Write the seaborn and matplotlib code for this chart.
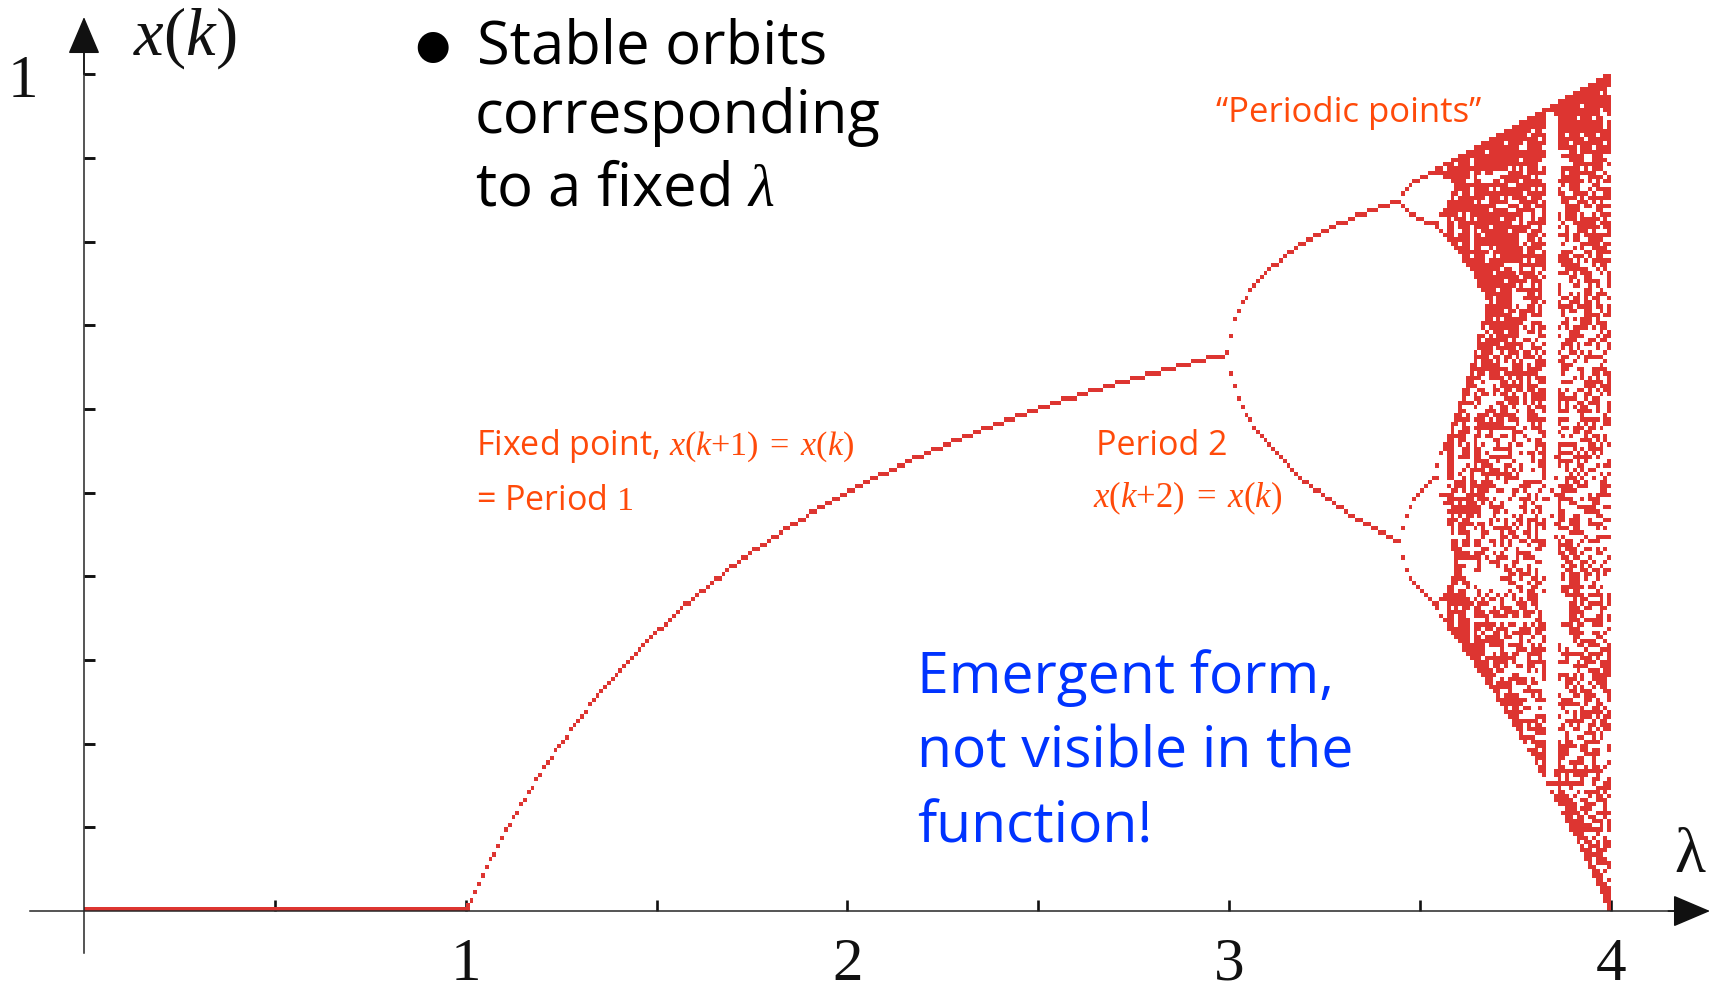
import numpy as np
import pandas as pd
import matplotlib
matplotlib.use("Agg")
import matplotlib.pyplot as plt
from matplotlib.colors import ListedColormap
import seaborn as sns

# ---- logistic map x(k+1) = lambda * x(k) * (1 - x(k)) ----
# lambda sampled at the centres of 0.01-wide columns between 0 and 4
LAMBDA_FIRST = 0.005
LAMBDA_LAST = 3.995
LAMBDA_STEP = 0.01
X_START = 0.2
N_TRANSIENT = 1000
N_ORBIT = 180
N_XBINS = 200

# axis decorations
X_TICKS = [0.5, 1.0, 1.5, 2.0, 2.5, 3.0, 3.5, 4.0]
X_TICK_LABELS = ["", "1", "", "2", "", "3", "", "4"]
Y_TICKS = [0.1, 0.2, 0.3, 0.4, 0.5, 0.6, 0.7, 0.8, 0.9, 1.0]
Y_TICK_LABELS = ["", "", "", "", "", "", "", "", "", "1"]

DOT_RED = "#DD3531"
NOTE_ORANGE = "#FF4A0A"
NOTE_BLUE = "#0033FF"
AXIS_COLOR = "#262626"

# iterate the map for every lambda and keep the settled orbit
lam = np.round(np.arange(LAMBDA_FIRST, LAMBDA_LAST + LAMBDA_STEP / 2, LAMBDA_STEP), 4)
x = np.full(lam.shape, X_START)
for _ in range(N_TRANSIENT):
    x = lam * x * (1.0 - x)
orbit = np.empty((N_ORBIT, lam.size))
for i in range(N_ORBIT):
    x = lam * x * (1.0 - x)
    orbit[i] = x
orbits = pd.DataFrame({"lam": np.tile(lam, N_ORBIT), "x": orbit.ravel()})

lam_edges = np.append(lam - LAMBDA_STEP / 2, lam[-1] + LAMBDA_STEP / 2)
x_edges = np.linspace(0.0, 1.0, N_XBINS + 1)

# ---- figure ----
sns.set_theme(style="white")
plt.rcParams["font.family"] = ["Open Sans", "DejaVu Sans"]
plt.rcParams["mathtext.fontset"] = "custom"
plt.rcParams["mathtext.rm"] = "Liberation Serif"
plt.rcParams["mathtext.it"] = "Liberation Serif:italic"
plt.rcParams["mathtext.bf"] = "Liberation Serif:bold"

W, H = 1720, 987
fig = plt.figure(figsize=(W / 100, H / 100), dpi=100)
fig.patch.set_facecolor("white")
ax = fig.add_axes([0, 0, 1, 1])
ax.set_facecolor("white")

sns.histplot(data=orbits, x="lam", y="x", bins=(lam_edges, x_edges),
             cmap=ListedColormap([DOT_RED]), cbar=False, ax=ax)

ax.set_xlim(-0.2200, 4.2855)
ax.set_ylim(-0.0896, 1.0900)
ax.set_xlabel("")
ax.set_ylabel("")

# axes through the origin with arrow heads
for side in ("top", "right"):
    ax.spines[side].set_visible(False)
for side in ("left", "bottom"):
    ax.spines[side].set_position(("data", 0))
    ax.spines[side].set_color(AXIS_COLOR)
    ax.spines[side].set_linewidth(1.1)
ax.spines["bottom"].set_bounds(-0.1415, 4.20)
ax.spines["left"].set_bounds(-0.0502, 1.03)

head = "-|>,head_length=2.0,head_width=0.85"
ax.annotate("", xy=(4.2594, 0), xytext=(4.15, 0),
            arrowprops=dict(arrowstyle=head, color="#111111", lw=1.1,
                            shrinkA=0, shrinkB=0))
ax.annotate("", xy=(0, 1.0685), xytext=(0, 1.00),
            arrowprops=dict(arrowstyle=head, color="#111111", lw=1.1,
                            shrinkA=0, shrinkB=0))

ax.set_xticks(X_TICKS, X_TICK_LABELS)
ax.set_yticks(Y_TICKS, Y_TICK_LABELS)
ax.tick_params(axis="x", direction="in", length=8, width=1.9, color="#111111",
               pad=18, labelsize=44, labelcolor="#111111")
ax.tick_params(axis="y", direction="in", length=8.2, width=2.1, color="#111111",
               pad=33, labelsize=44, labelcolor="#111111")
for lbl in ax.get_xticklabels() + ax.get_yticklabels():
    lbl.set_fontfamily("Liberation Serif")
ax.tick_params(left=True, bottom=True)


def at(px, py):
    return px / W, 1 - py / H


# axis titles
fig.text(*at(133, 55), r"$x(k)$", fontsize=48, ha="left", va="baseline",
         color="#111111")
fig.text(*at(1690, 872), "λ", fontsize=46, ha="center", va="baseline",
         family="Liberation Serif", color="#111111")

# bullet note
fig.text(*at(432, 72), "•", fontsize=60, ha="center", va="baseline", color="black",
         family="Lato")
fig.text(*at(477, 63), "Stable orbits", fontsize=43, ha="left", va="baseline", color="black")
fig.text(*at(475, 133), "corresponding", fontsize=43, ha="left", va="baseline", color="black")
fig.text(*at(475, 205), r"to a fixed $\lambda$", fontsize=43, ha="left", va="baseline",
         color="black")

# annotations of the regimes
fig.text(*at(1216, 122), "“Periodic points”", fontsize=25, ha="left", va="baseline",
         color=NOTE_ORANGE)
fig.text(*at(476, 455), r"Fixed point, $x(k{+}1)\;=\;x(k)$", fontsize=24.5, ha="left",
         va="baseline", color=NOTE_ORANGE)
fig.text(*at(476, 510), r"= Period $1$", fontsize=24.5, ha="left", va="baseline",
         color=NOTE_ORANGE)
fig.text(*at(1096, 455), "Period 2", fontsize=24.5, ha="left", va="baseline",
         color=NOTE_ORANGE)
fig.text(*at(1093, 507), r"$x(k{+}2)\;=\;x(k)$", fontsize=25, ha="left", va="baseline",
         color=NOTE_ORANGE)

for py, line in zip((693, 768, 843), ("Emergent form,", "not visible in the", "function!")):
    fig.text(*at(917, py), line, fontsize=41, ha="left", va="baseline", color=NOTE_BLUE)

fig.savefig("out.png", dpi=100, facecolor="white")
